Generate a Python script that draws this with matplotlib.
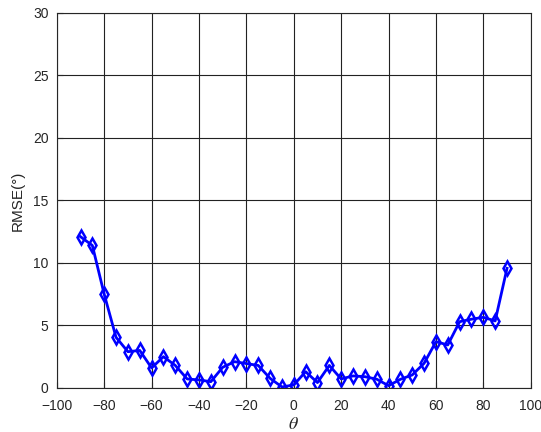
import matplotlib
matplotlib.use('Agg')
import matplotlib.pyplot as plt

theta = list(range(-90, 91, 5))
rmse = [12.1, 11.4, 7.5, 4.05, 2.9, 3.0, 1.6, 2.5, 1.8, 0.72, 0.64, 0.5,
        1.65, 2.1, 1.95, 1.8, 0.77, 0.08, 0.24, 1.3, 0.43, 1.8, 0.72, 0.96,
        0.9, 0.7, 0.18, 0.69, 1.04, 1.97, 3.7, 3.44, 5.3, 5.5, 5.65, 5.36, 9.57]

plt.rcParams['font.family'] = ['Liberation Sans', 'DejaVu Sans']
plt.rcParams['mathtext.fontset'] = 'stix'

fig = plt.figure(figsize=(5.41, 4.32), dpi=100)
ax = fig.add_axes([0.105, 0.102, 0.876, 0.868])

ax.plot(theta, rmse, color='blue', linewidth=2.0, marker='d', markersize=7,
        markerfacecolor='none', markeredgecolor='blue', markeredgewidth=1.8)

ax.set_xlim(-100, 100)
ax.set_ylim(0, 30)
ax.set_xticks(range(-100, 101, 20))
ax.set_yticks(range(0, 31, 5))
ax.grid(True, color='#222222', linewidth=0.8)
ax.tick_params(direction='in', colors='#262626', labelsize=10, length=4)
ax.tick_params(axis='x', pad=8)
ax.tick_params(axis='y', pad=6)
for s in ax.spines.values():
    s.set_color('#262626')
    s.set_linewidth(0.8)

ax.set_xlabel(r'$\theta$', fontsize=13, color='#262626', labelpad=2)
ax.set_ylabel('RMSE(°)', fontsize=11, color='#262626', labelpad=6)

fig.savefig('out.png', dpi=100)
